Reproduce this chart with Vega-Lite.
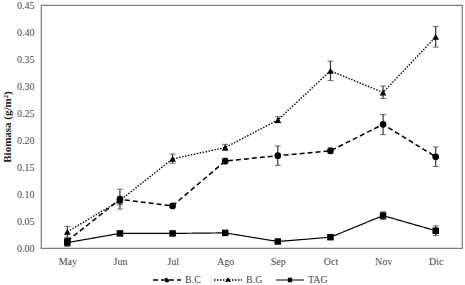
{
  "$schema": "https://vega.github.io/schema/vega-lite/v6.json",
  "autosize": "none",
  "width": 421,
  "height": 243,
  "padding": {"left": 41, "top": 5, "right": 3, "bottom": 37},
  "background": "white",
  "config": {
    "font": "Liberation Serif",
    "view": {"stroke": "#7a7a7a", "strokeWidth": 1.2},
    "axis": {"labelFont": "Liberation Serif", "titleFont": "Liberation Serif", "labelColor": "#444", "labelFontSize": 10, "domain": false, "ticks": false, "grid": false, "labelOverlap": false},
    "axisY": {"tickCount": 10, "labelOverlap": false, "labelFlush": false}
  },
  "data": {"values": [
    {"m": "May", "s": "B.C", "v": 0.013, "lo": 0.008, "hi": 0.018},
    {"m": "Jun", "s": "B.C", "v": 0.090, "lo": 0.072, "hi": 0.109},
    {"m": "Jul", "s": "B.C", "v": 0.078, "lo": 0.076, "hi": 0.080},
    {"m": "Ago", "s": "B.C", "v": 0.161, "lo": 0.156, "hi": 0.166},
    {"m": "Sep", "s": "B.C", "v": 0.171, "lo": 0.153, "hi": 0.189},
    {"m": "Oct", "s": "B.C", "v": 0.180, "lo": 0.175, "hi": 0.185},
    {"m": "Nov", "s": "B.C", "v": 0.229, "lo": 0.210, "hi": 0.247},
    {"m": "Dic", "s": "B.C", "v": 0.169, "lo": 0.151, "hi": 0.187},
    {"m": "May", "s": "B.G", "v": 0.030, "lo": 0.020, "hi": 0.040},
    {"m": "Jun", "s": "B.G", "v": 0.088, "lo": 0.080, "hi": 0.096},
    {"m": "Jul", "s": "B.G", "v": 0.165, "lo": 0.157, "hi": 0.174},
    {"m": "Ago", "s": "B.G", "v": 0.186, "lo": 0.181, "hi": 0.192},
    {"m": "Sep", "s": "B.G", "v": 0.237, "lo": 0.232, "hi": 0.243},
    {"m": "Oct", "s": "B.G", "v": 0.328, "lo": 0.310, "hi": 0.346},
    {"m": "Nov", "s": "B.G", "v": 0.288, "lo": 0.277, "hi": 0.300},
    {"m": "Dic", "s": "B.G", "v": 0.391, "lo": 0.372, "hi": 0.410},
    {"m": "May", "s": "TAG", "v": 0.010, "lo": 0.003, "hi": 0.017},
    {"m": "Jun", "s": "TAG", "v": 0.027, "lo": 0.025, "hi": 0.029},
    {"m": "Jul", "s": "TAG", "v": 0.027, "lo": 0.025, "hi": 0.029},
    {"m": "Ago", "s": "TAG", "v": 0.028, "lo": 0.025, "hi": 0.031},
    {"m": "Sep", "s": "TAG", "v": 0.012, "lo": 0.010, "hi": 0.014},
    {"m": "Oct", "s": "TAG", "v": 0.020, "lo": 0.016, "hi": 0.024},
    {"m": "Nov", "s": "TAG", "v": 0.060, "lo": 0.053, "hi": 0.067},
    {"m": "Dic", "s": "TAG", "v": 0.032, "lo": 0.023, "hi": 0.041}
  ]},
  "encoding": {
    "x": {"field": "m", "type": "ordinal", "sort": ["May","Jun","Jul","Ago","Sep","Oct","Nov","Dic"], "scale": {"type": "point", "padding": 0.5}, "axis": {"title": null, "labelAngle": 0, "labelPadding": 8}}
  },
  "layer": [
    {
      "mark": {"type": "errorbar", "ticks": {"size": 6, "color": "#333", "strokeWidth": 1.2}, "rule": {"color": "#333", "strokeWidth": 1.2}},
      "encoding": {
        "y": {"field": "lo", "type": "quantitative", "scale": {"domain": [0, 0.45]}, "axis": {"title": "Biomasa (g/m²)", "titleFontWeight": "bold", "titleFontSize": 11, "titleColor": "#222", "values": [0,0.05,0.1,0.15,0.2,0.25,0.3,0.35,0.4,0.45], "format": ".2f", "labelPadding": 7, "titlePadding": 4, "labelOverlap": false}},
        "y2": {"field": "hi"},
        "detail": {"field": "s"}
      }
    },
    {
      "mark": {"type": "line", "color": "black"},
      "encoding": {
        "y": {"field": "v", "type": "quantitative", "axis": {"title": "Biomasa (g/m²)", "titleFontWeight": "bold", "titleFontSize": 11, "titleColor": "#222", "values": [0,0.05,0.1,0.15,0.2,0.25,0.3,0.35,0.4,0.45], "format": ".2f", "labelPadding": 7, "titlePadding": 4, "labelOverlap": false}},
        "strokeDash": {"field": "s", "type": "nominal", "scale": {"domain": ["B.C","B.G","TAG"], "range": [[5,3],[1.5,1.5],[1,0]]},
          "legend": {"title": null, "orient": "none", "direction": "horizontal", "legendX": 111, "legendY": 260,
            "symbolSize": 784, "symbolStrokeColor": "black", "symbolFillColor": "black", "symbolStrokeWidth": 1.5,
            "labelFont": "Liberation Serif", "labelFontSize": 10, "labelColor": "#444", "labelOffset": 3, "columnPadding": 10,
            "encode": {"symbols": {"update": {"shape": {"signal": "datum.value === 'B.C' ? 'M-1,0H1M-0.12,0A0.12,0.12 0 1,0 0.12,0A0.12,0.12 0 1,0 -0.12,0Z' : datum.value === 'B.G' ? 'M-1,0H1M0,-0.14L0.13,0.1L-0.13,0.1Z' : 'M-1,0H1M-0.11,-0.11H0.11V0.11H-0.11Z'"}, "fill": {"value": "black"}, "stroke": {"value": "black"}}}}
          }},
        "strokeWidth": {"field": "s", "type": "nominal", "scale": {"domain": ["B.C","B.G","TAG"], "range": [1.5,1.2,2]}, "legend": null}
      }
    },
    {
      "transform": [{"filter": "datum.s === 'B.C'"}],
      "mark": {"type": "point", "filled": true, "color": "black", "opacity": 1, "shape": "circle", "size": 45},
      "encoding": {"y": {"field": "v", "type": "quantitative"}}
    },
    {
      "transform": [{"filter": "datum.s === 'B.G'"}],
      "mark": {"type": "point", "filled": true, "color": "black", "opacity": 1, "shape": "triangle-up", "size": 45},
      "encoding": {"y": {"field": "v", "type": "quantitative"}}
    },
    {
      "transform": [{"filter": "datum.s === 'TAG'"}],
      "mark": {"type": "point", "filled": true, "color": "black", "opacity": 1, "shape": "square", "size": 42},
      "encoding": {"y": {"field": "v", "type": "quantitative"}}
    }
  ]
}
